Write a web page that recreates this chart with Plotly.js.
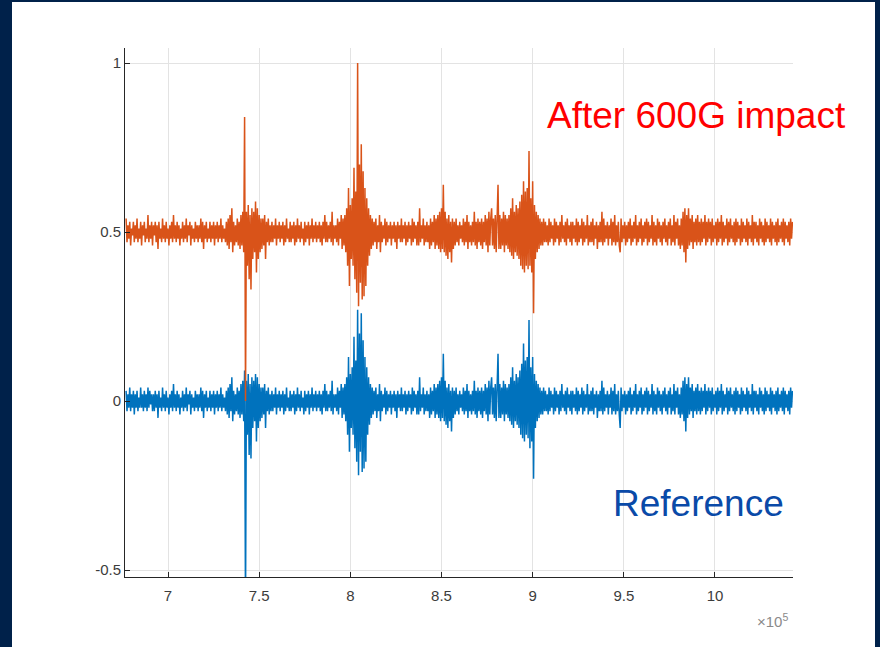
<!DOCTYPE html>
<html>
<head>
<meta charset="utf-8">
<script src="https://cdn.plot.ly/plotly-3.0.1.min.js"></script>
<style>
  html, body { margin: 0; padding: 0; background: #00214a; width: 880px; height: 647px; overflow: hidden; }
  #chart { position: absolute; left: 12px; top: 2px; width: 863px; height: 645px; background: #ffffff; }
</style>
</head>
<body>
<div id="chart"></div>
<script>
// Sample axis: first sample position and sample spacing (raw x units)
const sampleStart = 677000;
const sampleStep = 500;

// Tick positions / labels (x shown in units of 10^5)
const xTickVals = [700000, 750000, 800000, 850000, 900000, 950000, 1000000];
const xTickText = ['7', '7.5', '8', '8.5', '9', '9.5', '10'];
const yTickVals = [-0.5, 0, 0.5, 1];
const yTickText = ['-0.5', '0', '0.5', '1'];

// Series names
const seriesNames = ['Reference', 'After 600G impact'];

// "Reference" signal (blue)
const referenceValues = [
  0.03,-0.03,0.02,-0.02,0.04,-0.03,0.02,-0.02,0.03,-0.04,
  0.02,-0.02,0.03,-0.03,0.01,-0.02,0.04,-0.02,0.02,-0.03,
  0.03,-0.02,0.02,-0.03,0.04,-0.02,0.03,-0.01,0.02,-0.03,
  0.02,-0.03,0.03,-0.02,0.02,-0.05,0.03,-0.02,0.01,-0.03,
  0.04,-0.02,0.02,-0.03,0.03,-0.02,0.01,-0.04,0.02,-0.02,
  0.03,-0.03,0.05,-0.02,0.02,-0.03,0.03,-0.02,0.02,-0.04,
  0.01,-0.02,0.03,-0.03,0.02,-0.02,0.04,-0.03,0.02,-0.01,
  0.03,-0.04,0.02,-0.02,0.01,-0.03,0.03,-0.02,0.02,-0.03,
  0.02,-0.02,0.04,-0.03,0.03,-0.05,0.02,-0.02,0.03,-0.03,
  0.01,-0.02,0.03,-0.03,0.02,-0.02,0.03,-0.04,0.02,-0.02,
  0.03,-0.03,0.02,-0.02,0.04,-0.03,0.02,-0.02,0.01,-0.03,
  0.03,-0.04,0.04,-0.05,0.05,-0.03,0.07,-0.06,0.03,-0.04,
  0.02,-0.03,0.04,-0.04,0.03,-0.05,0.05,-0.04,0.06,-0.06,
  0.09,-0.62,0.06,-0.10,0.08,-0.16,0.05,-0.17,0.07,-0.08,
  0.06,-0.06,0.08,-0.12,0.07,-0.08,0.05,-0.06,0.04,-0.05,
  0.04,-0.04,0.05,-0.08,0.03,-0.03,0.04,-0.04,0.02,-0.03,
  0.03,-0.03,0.02,-0.02,0.04,-0.04,0.02,-0.02,0.03,-0.03,
  0.02,-0.02,0.03,-0.04,0.02,-0.03,0.04,-0.02,0.01,-0.03,
  0.03,-0.03,0.02,-0.02,0.03,-0.04,0.02,-0.03,0.04,-0.02,
  0.02,-0.03,0.03,-0.02,0.01,-0.04,0.03,-0.03,0.02,-0.02,
  0.03,-0.04,0.02,-0.02,0.04,-0.03,0.02,-0.02,0.03,-0.03,
  0.02,-0.02,0.03,-0.03,0.02,-0.04,0.03,-0.02,0.05,-0.03,
  0.03,-0.03,0.02,-0.02,0.03,-0.03,0.06,-0.04,0.02,-0.02,
  0.02,-0.03,0.04,-0.04,0.03,-0.02,0.05,-0.05,0.04,-0.04,
  0.05,-0.06,0.07,-0.10,0.13,-0.15,0.08,-0.08,0.10,-0.10,
  0.19,-0.14,0.12,-0.18,0.27,-0.22,0.20,-0.15,0.26,-0.21,
  0.18,-0.20,0.13,-0.18,0.10,-0.10,0.07,-0.07,0.05,-0.05,
  0.04,-0.04,0.03,-0.03,0.04,-0.05,0.02,-0.03,0.05,-0.06,
  0.03,-0.03,0.02,-0.02,0.04,-0.04,0.03,-0.03,0.02,-0.02,
  0.03,-0.04,0.02,-0.02,0.03,-0.03,0.02,-0.05,0.03,-0.02,
  0.02,-0.03,0.04,-0.03,0.02,-0.02,0.03,-0.04,0.02,-0.03,
  0.03,-0.02,0.02,-0.04,0.04,-0.03,0.03,-0.02,0.02,-0.04,
  0.03,-0.04,0.07,-0.03,0.02,-0.02,0.04,-0.04,0.02,-0.03,
  0.03,-0.03,0.02,-0.05,0.04,-0.04,0.03,-0.03,0.05,-0.05,
  0.04,-0.04,0.05,-0.05,0.06,-0.06,0.07,-0.05,0.14,-0.06,
  0.06,-0.07,0.04,-0.08,0.05,-0.06,0.03,-0.09,0.04,-0.05,
  0.03,-0.04,0.04,-0.03,0.02,-0.04,0.03,-0.02,0.02,-0.03,
  0.04,-0.04,0.03,-0.03,0.05,-0.05,0.03,-0.03,0.02,-0.04,
  0.03,-0.03,0.06,-0.04,0.03,-0.05,0.04,-0.03,0.03,-0.04,
  0.04,-0.05,0.03,-0.03,0.05,-0.04,0.04,-0.06,0.06,-0.04,
  0.04,0.07,-0.04,0.04,-0.05,0.05,-0.06,0.03,0.14,-0.05,
  0.05,-0.05,0.04,-0.04,0.06,-0.06,0.05,-0.04,0.04,-0.05,
  0.05,-0.06,0.07,-0.07,0.10,-0.08,0.06,-0.06,0.08,-0.07,
  0.07,-0.08,0.09,-0.10,0.11,-0.11,0.17,-0.12,0.12,-0.10,
  0.13,-0.11,0.24,-0.14,0.10,-0.12,0.13,-0.23,0.08,-0.08,
  0.06,-0.06,0.05,-0.05,0.04,-0.04,0.03,-0.04,0.04,-0.03,
  0.03,-0.03,0.02,-0.04,0.04,-0.03,0.03,-0.02,0.02,-0.04,
  0.04,-0.03,0.03,-0.02,0.02,-0.04,0.03,-0.03,0.05,-0.02,
  0.02,-0.03,0.03,-0.04,0.04,-0.02,0.02,-0.03,0.03,-0.04,
  0.03,-0.02,0.02,-0.03,0.04,-0.04,0.03,-0.03,0.02,-0.02,
  0.04,-0.04,0.03,-0.03,0.02,-0.02,0.05,-0.04,0.02,-0.03,
  0.03,-0.03,0.04,-0.04,0.02,-0.02,0.03,-0.05,0.02,-0.03,
  0.03,-0.03,0.06,-0.04,0.04,-0.03,0.02,-0.02,0.03,-0.04,
  0.02,-0.02,0.04,-0.04,0.03,-0.03,0.05,-0.04,0.02,-0.03,
  0.03,-0.04,-0.08,0.04,-0.03,0.02,-0.02,0.03,-0.04,0.02,
  -0.03,0.03,-0.02,0.04,-0.04,0.02,-0.03,0.03,-0.02,0.05,
  -0.04,0.02,-0.03,0.03,-0.02,0.04,-0.04,0.02,-0.03,0.03,
  -0.02,0.04,-0.04,0.03,-0.03,0.02,-0.02,0.05,-0.04,0.03,
  -0.03,0.02,-0.04,0.04,-0.02,0.03,-0.03,0.02,-0.04,0.03,
  -0.02,0.04,-0.03,0.02,-0.04,0.03,-0.02,0.04,-0.04,0.02,
  -0.03,0.05,-0.04,0.03,-0.02,0.04,-0.04,0.02,-0.05,0.04,
  -0.04,0.06,-0.06,0.07,-0.09,0.05,-0.05,0.07,-0.04,0.04,
  -0.03,0.05,-0.05,0.03,-0.03,0.04,-0.04,0.05,-0.03,0.03,
  -0.04,0.04,-0.03,0.03,-0.02,0.05,-0.04,0.03,-0.03,0.04,
  -0.02,0.03,-0.04,0.04,-0.03,0.02,-0.02,0.03,-0.04,0.04,
  -0.03,0.03,-0.02,0.05,-0.04,0.03,-0.03,0.02,-0.02,0.04,
  -0.04,0.03,-0.03,0.04,-0.02,0.02,-0.03,0.03,-0.04,0.04,
  -0.03,0.03,-0.02,0.02,-0.04,0.04,-0.03,0.03,-0.02,0.02,
  -0.03,0.04,-0.04,0.03,-0.02,0.02,-0.03,0.05,-0.04,0.03,
  -0.02,0.03,-0.03,0.02,-0.04,0.04,-0.02,0.03,-0.03,0.02,
  -0.04,0.04,-0.03,0.03,-0.02,0.02,-0.03,0.04,-0.04,0.03,
  -0.02,0.02,-0.03,0.03,-0.04,0.04,-0.03,0.02,-0.02,0.03,
  -0.03,0.04,-0.04,0.03,-0.02,0.02,-0.03,0.03,-0.04,0.04,
  -0.02,0.03
];

// "After 600G impact" signal (orange)
const impactValues = [
  0.54,0.47,0.52,0.48,0.53,0.46,0.51,0.49,0.53,0.47,
  0.52,0.48,0.54,0.47,0.51,0.48,0.53,0.46,0.52,0.49,
  0.53,0.47,0.51,0.48,0.55,0.47,0.52,0.48,0.53,0.46,
  0.52,0.49,0.53,0.47,0.52,0.45,0.53,0.48,0.51,0.47,
  0.54,0.48,0.52,0.47,0.53,0.48,0.51,0.46,0.52,0.48,
  0.53,0.47,0.55,0.48,0.52,0.47,0.53,0.48,0.52,0.46,
  0.51,0.48,0.53,0.47,0.52,0.48,0.54,0.47,0.52,0.49,
  0.53,0.46,0.52,0.48,0.51,0.47,0.53,0.48,0.52,0.47,
  0.52,0.48,0.54,0.47,0.53,0.45,0.52,0.48,0.53,0.47,
  0.51,0.48,0.53,0.47,0.52,0.48,0.53,0.46,0.52,0.48,
  0.53,0.47,0.52,0.48,0.54,0.47,0.52,0.48,0.51,0.47,
  0.53,0.46,0.54,0.45,0.55,0.47,0.57,0.44,0.53,0.46,
  0.52,0.47,0.54,0.46,0.53,0.45,0.55,0.46,0.56,0.44,
  0.84,0.00,0.56,0.40,0.58,0.36,0.55,0.33,0.57,0.42,
  0.56,0.44,0.59,0.38,0.57,0.42,0.55,0.44,0.54,0.45,
  0.54,0.46,0.55,0.42,0.53,0.47,0.54,0.46,0.52,0.47,
  0.53,0.47,0.52,0.48,0.54,0.46,0.52,0.48,0.53,0.47,
  0.52,0.48,0.53,0.46,0.52,0.47,0.54,0.48,0.51,0.47,
  0.53,0.47,0.52,0.48,0.53,0.46,0.52,0.47,0.54,0.48,
  0.52,0.47,0.53,0.48,0.51,0.46,0.53,0.47,0.52,0.48,
  0.53,0.46,0.52,0.48,0.54,0.47,0.52,0.48,0.53,0.47,
  0.52,0.48,0.53,0.47,0.52,0.46,0.53,0.48,0.55,0.47,
  0.53,0.47,0.52,0.48,0.53,0.47,0.56,0.46,0.52,0.48,
  0.52,0.47,0.54,0.46,0.53,0.48,0.55,0.45,0.54,0.46,
  0.55,0.44,0.57,0.40,0.63,0.34,0.58,0.42,0.60,0.40,
  0.69,0.36,0.62,0.32,1.00,0.28,0.70,0.35,0.76,0.30,
  0.68,0.31,0.63,0.34,0.60,0.40,0.57,0.43,0.55,0.45,
  0.54,0.46,0.53,0.47,0.54,0.45,0.52,0.47,0.55,0.44,
  0.53,0.47,0.52,0.48,0.54,0.46,0.53,0.47,0.52,0.48,
  0.53,0.46,0.52,0.48,0.53,0.47,0.52,0.45,0.53,0.48,
  0.52,0.47,0.54,0.47,0.52,0.48,0.53,0.46,0.52,0.47,
  0.53,0.48,0.52,0.46,0.54,0.47,0.53,0.48,0.52,0.46,
  0.53,0.46,0.57,0.47,0.52,0.48,0.54,0.46,0.52,0.47,
  0.53,0.47,0.52,0.45,0.54,0.46,0.53,0.47,0.55,0.45,
  0.54,0.46,0.55,0.45,0.56,0.44,0.57,0.45,0.64,0.44,
  0.56,0.43,0.54,0.42,0.55,0.44,0.53,0.41,0.54,0.45,
  0.53,0.46,0.54,0.47,0.52,0.46,0.53,0.48,0.52,0.47,
  0.54,0.46,0.53,0.47,0.55,0.45,0.53,0.47,0.52,0.46,
  0.53,0.47,0.56,0.46,0.53,0.45,0.54,0.47,0.53,0.46,
  0.54,0.45,0.53,0.47,0.55,0.46,0.54,0.44,0.56,0.46,
  0.54,0.57,0.46,0.54,0.45,0.55,0.44,0.53,0.64,0.45,
  0.55,0.45,0.54,0.46,0.56,0.44,0.55,0.46,0.54,0.45,
  0.55,0.44,0.57,0.43,0.60,0.42,0.56,0.44,0.58,0.43,
  0.57,0.42,0.59,0.40,0.61,0.39,0.65,0.38,0.62,0.40,
  0.63,0.39,0.74,0.40,0.60,0.38,0.65,0.26,0.58,0.42,
  0.56,0.44,0.55,0.45,0.54,0.46,0.53,0.46,0.54,0.47,
  0.53,0.47,0.52,0.46,0.54,0.47,0.53,0.48,0.52,0.46,
  0.54,0.47,0.53,0.48,0.52,0.46,0.53,0.47,0.55,0.48,
  0.52,0.47,0.53,0.46,0.54,0.48,0.52,0.47,0.53,0.46,
  0.53,0.48,0.52,0.47,0.54,0.46,0.53,0.47,0.52,0.48,
  0.54,0.46,0.53,0.47,0.52,0.48,0.55,0.46,0.52,0.47,
  0.53,0.47,0.54,0.46,0.52,0.48,0.53,0.45,0.52,0.47,
  0.53,0.47,0.56,0.46,0.54,0.47,0.52,0.48,0.53,0.46,
  0.52,0.48,0.54,0.46,0.53,0.47,0.55,0.46,0.52,0.47,
  0.53,0.46,0.44,0.54,0.47,0.52,0.48,0.53,0.46,0.52,
  0.47,0.53,0.48,0.54,0.46,0.52,0.47,0.53,0.48,0.55,
  0.46,0.52,0.47,0.53,0.48,0.54,0.46,0.52,0.47,0.53,
  0.48,0.54,0.46,0.53,0.47,0.52,0.48,0.55,0.46,0.53,
  0.47,0.52,0.46,0.54,0.48,0.53,0.47,0.52,0.46,0.53,
  0.48,0.54,0.47,0.52,0.46,0.53,0.48,0.54,0.46,0.52,
  0.47,0.55,0.46,0.53,0.48,0.54,0.46,0.52,0.45,0.54,
  0.46,0.56,0.44,0.57,0.41,0.55,0.45,0.57,0.46,0.54,
  0.47,0.55,0.45,0.53,0.47,0.54,0.46,0.55,0.47,0.53,
  0.46,0.54,0.47,0.53,0.48,0.55,0.46,0.53,0.47,0.54,
  0.48,0.53,0.46,0.54,0.47,0.52,0.48,0.53,0.46,0.54,
  0.47,0.53,0.48,0.55,0.46,0.53,0.47,0.52,0.48,0.54,
  0.46,0.53,0.47,0.54,0.48,0.52,0.47,0.53,0.46,0.54,
  0.47,0.53,0.48,0.52,0.46,0.54,0.47,0.53,0.48,0.52,
  0.47,0.54,0.46,0.53,0.48,0.52,0.47,0.55,0.46,0.53,
  0.48,0.53,0.47,0.52,0.46,0.54,0.48,0.53,0.47,0.52,
  0.46,0.54,0.47,0.53,0.48,0.52,0.47,0.54,0.46,0.53,
  0.48,0.52,0.47,0.53,0.46,0.54,0.47,0.52,0.48,0.53,
  0.47,0.54,0.46,0.53,0.48,0.52,0.47,0.53,0.46,0.54,
  0.48,0.53
];

const tickFont = { family: 'Liberation Sans, Arial, sans-serif', size: 15, color: '#3c3c3c' };

const traces = [
  {
    type: 'scatter', mode: 'lines', name: seriesNames[0],
    x0: sampleStart, dx: sampleStep, y: referenceValues,
    line: { color: '#0072BD', width: 1.5 }
  },
  {
    type: 'scatter', mode: 'lines', name: seriesNames[1],
    x0: sampleStart, dx: sampleStep, y: impactValues,
    line: { color: '#D95319', width: 1.5 }
  }
];

const layout = {
  width: 863, height: 645,
  margin: { l: 113, r: 82, t: 46, b: 70, pad: 0 },
  paper_bgcolor: '#ffffff', plot_bgcolor: '#ffffff',
  showlegend: false,
  xaxis: {
    range: [676400, 1042800],
    tickmode: 'array', tickvals: xTickVals, ticktext: xTickText,
    ticks: 'inside', ticklen: 5, tickwidth: 1, tickcolor: '#262626',
    ticklabelstandoff: 5,
    showline: true, linecolor: '#262626', linewidth: 1, mirror: false,
    showgrid: true, gridcolor: '#e3e3e3', gridwidth: 1, zeroline: false,
    tickfont: tickFont
  },
  yaxis: {
    range: [-0.5207, 1.0444],
    tickmode: 'array', tickvals: yTickVals, ticktext: yTickText,
    ticks: 'inside', ticklen: 5, tickwidth: 1, tickcolor: '#262626',
    showline: true, linecolor: '#262626', linewidth: 1, mirror: false,
    showgrid: true, gridcolor: '#e3e3e3', gridwidth: 1, zeroline: false,
    tickfont: tickFont
  },
  annotations: [
    {
      text: seriesNames[1], xref: 'x', yref: 'y', x: 990100, y: 0.846,
      xanchor: 'center', yanchor: 'middle', showarrow: false,
      font: { family: 'Liberation Sans, Arial, sans-serif', size: 37, color: '#ff0000' }
    },
    {
      text: seriesNames[0], xref: 'x', yref: 'y', x: 990700, y: -0.302,
      xanchor: 'center', yanchor: 'middle', showarrow: false,
      font: { family: 'Liberation Sans, Arial, sans-serif', size: 37, color: '#0a4aa8' }
    },
    {
      text: '×10<sup>5</sup>', xref: 'paper', yref: 'paper', x: 0.97, y: -0.083,
      xanchor: 'center', yanchor: 'middle', showarrow: false,
      font: { family: 'Liberation Sans, Arial, sans-serif', size: 15, color: '#8a8a8a' }
    }
  ]
};

Plotly.newPlot('chart', traces, layout, { displayModeBar: false, staticPlot: true });
</script>
</body>
</html>
